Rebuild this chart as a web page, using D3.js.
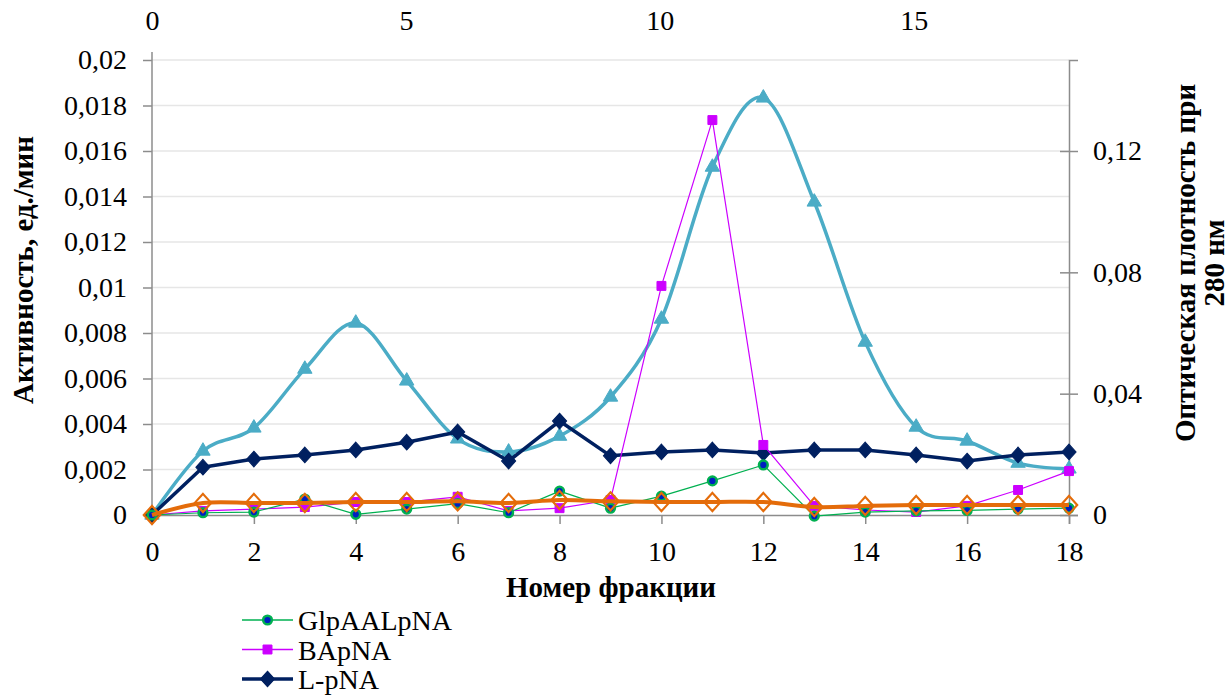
<!DOCTYPE html>
<html>
<head>
<meta charset="utf-8">
<script src="https://cdn.jsdelivr.net/npm/d3@7"></script>
<style>
body { margin: 0; background: #fff; }
</style>
</head>
<body>
<svg id="chart" width="1230" height="696" font-family="Liberation Serif"></svg>
<script>
// fraction numbers
var fractions = [0,1,2,3,4,5,6,7,8,9,10,11,12,13,14,15,16,17,18];

// activity, left axis
var glpaal = [0,0.0001,0.00013,0.0007,0.00003,0.00026,0.0005,0.0001,0.00105,0.0003,0.00083,0.0015,0.0022,-0.00005,0.00013,0.00018,0.0002,0.00026,0.0003];
var bapna  = [0,0.00018,0.00026,0.00035,0.00057,0.00057,0.0008,0.00018,0.0003,0.00066,0.01007,0.01736,0.00308,0.0004,0.00022,0.00013,0.0004,0.0011,0.00193];
var lpna   = [0,0.0021,0.00246,0.00264,0.00286,0.0032,0.00365,0.00237,0.00413,0.0026,0.00277,0.00286,0.00273,0.00286,0.00286,0.00264,0.00237,0.00264,0.00277];
var orange = [0,0.00053,0.00053,0.00053,0.00057,0.00057,0.0006,0.00053,0.00066,0.0006,0.00057,0.00057,0.00057,0.00035,0.0004,0.00044,0.00044,0.00044,0.00044];

// optical density at 280 nm, right axis
var od280 = [0,0.0211,0.0287,0.0481,0.0633,0.0442,0.0251,0.0208,0.026,0.0389,0.0646,0.1147,0.1375,0.1032,0.057,0.029,0.0244,0.0171,0.0152];

var leftTicks = [0,0.002,0.004,0.006,0.008,0.01,0.012,0.014,0.016,0.018,0.02];
var rightTicks = [0,0.04,0.08,0.12];
var bottomTicks = [0,2,4,6,8,10,12,14,16,18];
var topTicks = [0,5,10,15];

var FONT = "Liberation Serif";
var svg = d3.select("#chart");
var margin = { top: 60, right: 161, bottom: 181, left: 152 };
var width = 1230, height = 696;
var x0 = margin.left, x1 = width - margin.right;
var y0 = height - margin.bottom, y1 = margin.top;

var x = d3.scaleLinear().domain([0, 18]).range([x0, x1]);
var xTop = d3.scaleLinear().domain([0, 18]).range([x0, 1066]);
var y = d3.scaleLinear().domain([0, 0.02]).range([y0, y1]);
var yR = d3.scaleLinear().domain([0, 0.15]).range([y0, y1]);

var fmt = function(v) { return String(+v.toFixed(4)).replace(".", ","); };

// gridlines
svg.append("g").selectAll("line")
  .data(leftTicks.slice(1))
  .enter().append("line")
  .attr("x1", x0).attr("x2", x1)
  .attr("y1", function(d) { return y(d); })
  .attr("y2", function(d) { return y(d); })
  .attr("stroke", "#e6e6e6").attr("stroke-width", 1.5);

// axes
var axisColor = "#8c8c8c";
var gL = svg.append("g").attr("transform", "translate(" + x0 + ",0)")
  .call(d3.axisLeft(y).tickValues(leftTicks).tickFormat(fmt).tickSize(9).tickPadding(16));
var gB = svg.append("g").attr("transform", "translate(0," + y0 + ")")
  .call(d3.axisBottom(x).tickValues(bottomTicks).tickFormat(d3.format("d")).tickSize(9).tickPadding(17));
var gR = svg.append("g").attr("transform", "translate(" + x1 + ",0)")
  .call(d3.axisRight(yR).tickValues(rightTicks).tickFormat(fmt).tickSize(9).tickPadding(15));
var gT = svg.append("g").attr("transform", "translate(0,34)")
  .call(d3.axisTop(xTop).tickValues(topTicks).tickSize(0).tickPadding(4));

[gL, gB, gR, gT].forEach(function(g) {
  g.attr("font-family", FONT).attr("font-size", 28);
  g.selectAll("path.domain").attr("stroke", axisColor).attr("stroke-width", 1.5);
  g.selectAll(".tick line").attr("stroke", axisColor).attr("stroke-width", 1.5);
  g.selectAll("text").attr("font-family", FONT).attr("font-size", 28).attr("fill", "#000");
});
gT.select("path.domain").remove();
gR.selectAll(".tick line").attr("x1", -9);
gL.select("path.domain").attr("d", "M0," + (y1 - 8) + "V" + y0);

// axis titles
svg.append("text")
  .attr("transform", "translate(33,270) rotate(-90)")
  .attr("text-anchor", "middle")
  .attr("font-family", FONT)
  .attr("font-size", 29).attr("font-weight", "bold")
  .text("Активность, ед./мин");

svg.append("text")
  .attr("x", (x0 + x1) / 2 + 0.5).attr("y", 597)
  .attr("text-anchor", "middle")
  .attr("font-family", FONT)
  .attr("font-size", 29).attr("font-weight", "bold")
  .text("Номер фракции");

var rt = svg.append("text")
  .attr("transform", "translate(1195,263) rotate(-90)")
  .attr("text-anchor", "middle")
  .attr("font-family", FONT)
  .attr("font-size", 29).attr("font-weight", "bold");
rt.append("tspan").attr("x", 0).attr("dy", 0).text("Оптическая плотность при");
rt.append("tspan").attr("x", 0).attr("dy", 29).text("280 нм");

// series
var lineL = d3.line().x(function(d, i) { return x(fractions[i]); }).y(function(d) { return y(d); });
var lineLs = d3.line().curve(d3.curveCatmullRom.alpha(0)).x(function(d, i) { return x(fractions[i]); }).y(function(d) { return y(d); });
var lineRs = d3.line().curve(d3.curveCatmullRom.alpha(0)).x(function(d, i) { return x(fractions[i]); }).y(function(d) { return yR(d); });

var series = [
  { name: "od", data: od280, line: lineRs, scale: yR, color: "#4bacc6", width: 3.5, marker: "triangle", size: 90, fill: "#4bacc6", stroke: "#4bacc6" },
  { name: "L-pNA", data: lpna, line: lineL, scale: y, color: "#002060", width: 3.5, marker: "diamond", size: 110, fill: "#002060", stroke: "#002060" },
  { name: "BApNA", data: bapna, line: lineL, scale: y, color: "#cc00ff", width: 1.2, marker: "square", size: 80, fill: "#cc00ff", stroke: "#cc00ff" },
  { name: "GlpAALpNA", data: glpaal, line: lineL, scale: y, color: "#00b050", width: 1.2, marker: "circle", size: 60, fill: "#0020c0", stroke: "#00b050" },
  { name: "orange", data: orange, line: lineLs, scale: y, color: "#e46c0a", width: 4, marker: "diamond", size: 150, fill: "none", stroke: "#e46c0a" }
];

var symbols = { triangle: d3.symbolTriangle, diamond: d3.symbolDiamond, square: d3.symbolSquare, circle: d3.symbolCircle };

series.forEach(function(s) {
  svg.append("path")
    .attr("d", s.line(s.data))
    .attr("fill", "none")
    .attr("stroke", s.color)
    .attr("stroke-width", s.width)
    .attr("stroke-linejoin", "round");
  var sym = d3.symbol().type(symbols[s.marker]).size(s.size);
  svg.append("g").selectAll("path")
    .data(s.data)
    .enter().append("path")
    .attr("d", sym)
    .attr("transform", function(d, i) {
      return "translate(" + x(fractions[i]) + "," + s.scale(d) + ")" + (s.marker === "diamond" ? " scale(1.25,0.8)" : "");
    })
    .attr("fill", s.fill)
    .attr("stroke", s.stroke)
    .attr("stroke-width", s.marker === "circle" ? 2.5 : (s.fill === "none" ? 2 : 1));
});

// legend
var legendItems = series.filter(function(s) { return s.name !== "od" && s.name !== "orange"; }).reverse();
var lg = svg.append("g").attr("transform", "translate(242,620)");
legendItems.forEach(function(s, i) {
  var row = lg.append("g").attr("transform", "translate(0," + (i * 29.5) + ")");
  row.append("line").attr("x1", 0).attr("x2", 51).attr("y1", 0).attr("y2", 0)
    .attr("stroke", s.color).attr("stroke-width", s.name === "L-pNA" ? 3.5 : 1.5);
  row.append("path")
    .attr("d", d3.symbol().type(symbols[s.marker]).size(s.size))
    .attr("transform", "translate(25.5,0)" + (s.marker === "diamond" ? " scale(1.25,0.8)" : ""))
    .attr("fill", s.fill).attr("stroke", s.stroke)
    .attr("stroke-width", s.marker === "circle" ? 2.5 : 1);
  row.append("text").attr("x", 56).attr("y", 10)
    .attr("font-family", FONT)
    .attr("font-size", 28).text(s.name);
});
</script>
</body>
</html>
